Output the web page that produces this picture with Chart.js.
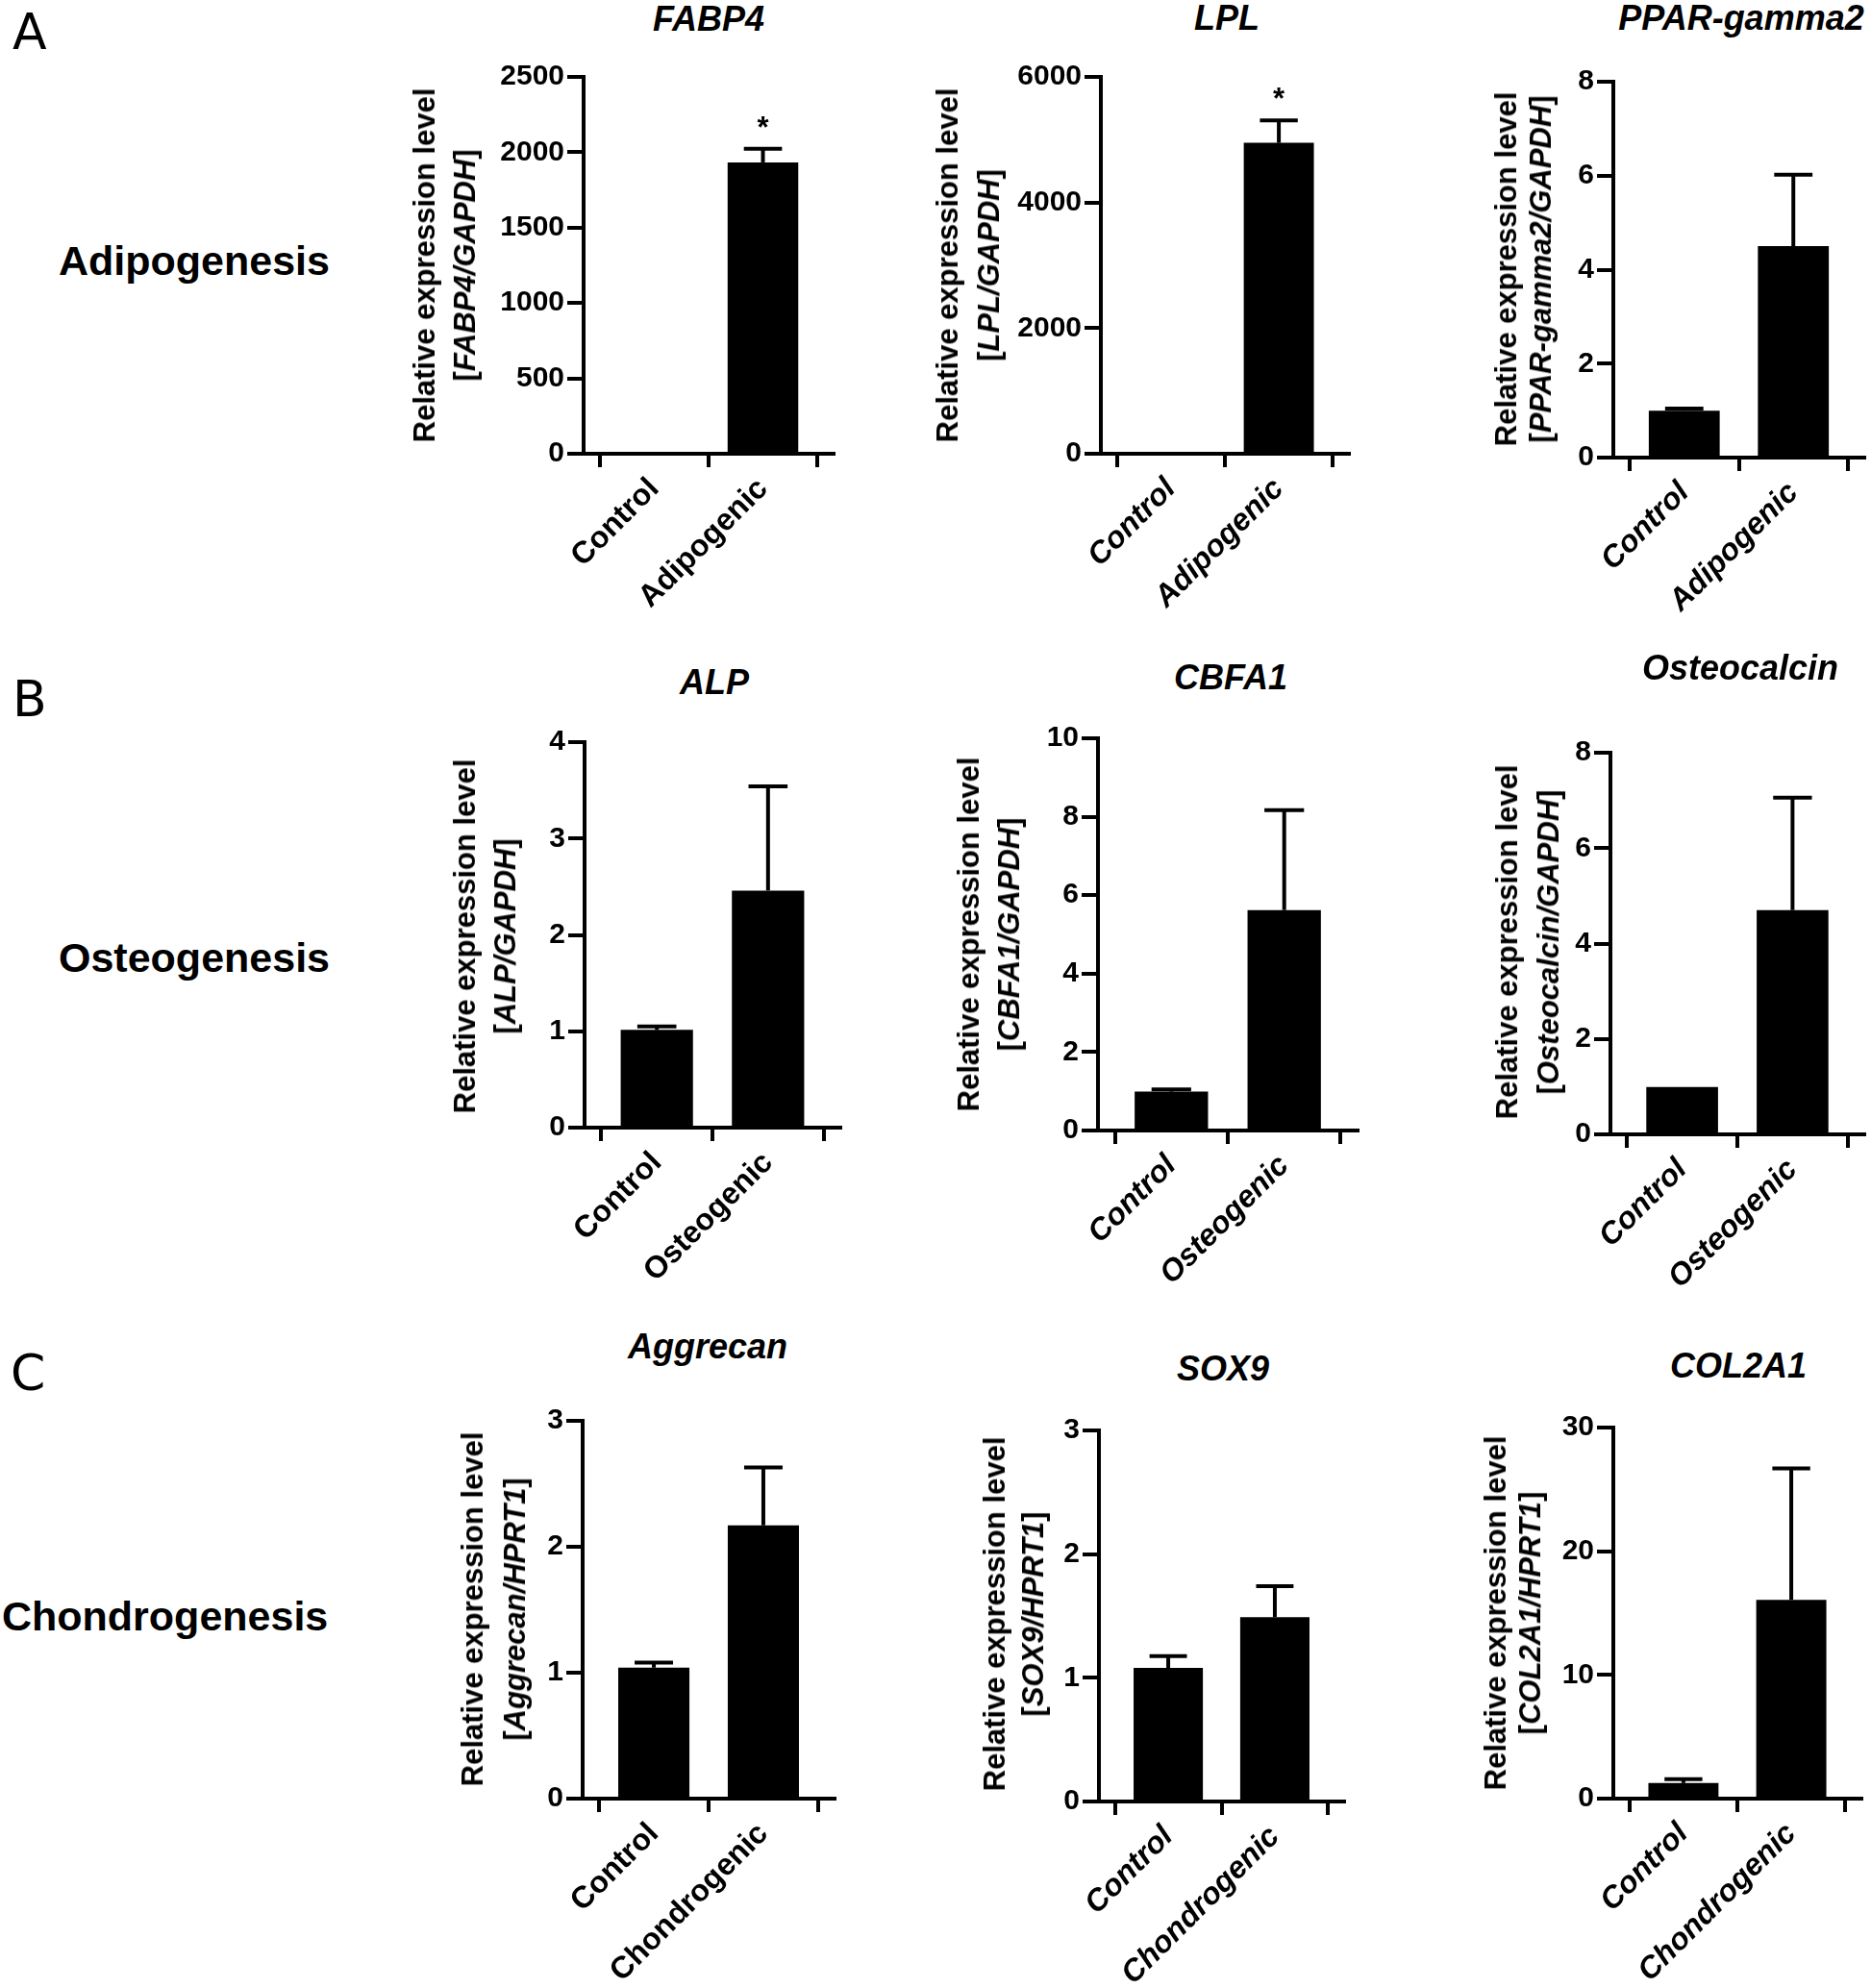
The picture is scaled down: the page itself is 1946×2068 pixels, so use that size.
<!DOCTYPE html>
<html>
<head>
<meta charset="utf-8">
<script src="https://cdn.jsdelivr.net/npm/chart.js@4.4.1/dist/chart.umd.min.js"></script>
<style>
html,body{margin:0;padding:0;background:#fff;overflow:hidden}
#page{position:relative;width:1946px;height:2068px;background:#fff;color:#000;font-family:"Liberation Sans",Arial,sans-serif;overflow:hidden}
canvas{position:absolute}
.t{position:absolute;white-space:nowrap;line-height:1;font-weight:bold}
.title{font-style:italic;transform:translateX(-50%)}
.yt{position:absolute;white-space:nowrap;font-weight:bold;text-align:center;transform:translate(-50%,-50%) rotate(-90deg)}
.letter{position:absolute;line-height:1;font-family:"DejaVu Sans",sans-serif;font-weight:normal}
</style>
</head>
<body>
<div id="page"></div>
<script>
// ---------------- DATA ----------------
const geneNames = ['FABP4', 'LPL', 'PPAR-gamma2', 'ALP', 'CBFA1', 'Osteocalcin', 'Aggrecan', 'SOX9', 'COL2A1'];
const referenceGenes = ['GAPDH', 'GAPDH', 'GAPDH', 'GAPDH', 'GAPDH', 'GAPDH', 'HPRT1', 'HPRT1', 'HPRT1'];
const rowLabels = ['Adipogenesis', 'Osteogenesis', 'Chondrogenesis'];
const panelLetters = ['A', 'B', 'C'];

const adipoCategories = ['Control', 'Adipogenic'];
const osteoCategories = ['Control', 'Osteogenic'];
const chondroCategories = ['Control', 'Chondrogenic'];

const fabp4Mean = [1, 1933];      const fabp4Sem = [0, 91];
const lplMean = [1, 4950];        const lplSem = [0, 359];
const pparMean = [1.00, 4.50];    const pparSem = [0.045, 1.52];
const alpMean = [1.015, 2.46];    const alpSem = [0.035, 1.08];
const cbfa1Mean = [0.99, 5.62];   const cbfa1Sem = [0.06, 2.55];
const ocMean = [0.99, 4.70];      const ocSem = [0, 2.36];
const aggMean = [1.04, 2.17];     const aggSem = [0.04, 0.46];
const sox9Mean = [1.08, 1.49];    const sox9Sem = [0.095, 0.25];
const col2Mean = [1.26, 16.06];   const col2Sem = [0.32, 10.64];

const fabp4Sig = [false, true];
const lplSig = [false, true];
const noSig = [false, false];

const yMaxes = [2500, 6000, 8, 4, 10, 8, 3, 3, 30];
const ySteps = [500, 2000, 2, 1, 2, 2, 1, 1, 10];

// ---------------- LAYOUT (positions only) ----------------
const frames = [
  {L:607,  R:867,  T:80,   B:472,  tx:737,  tb:32,   y1:442,  y2:484,  yc:276,  ital:false},
  {L:1145, R:1403, T:80,   B:472,  tx:1276, tb:31,   y1:985,  y2:1028, yc:276,  ital:true},
  {L:1678, R:1939, T:85,   B:476,  tx:1811, tb:31,   y1:1567, y2:1603, yc:280,  ital:true},
  {L:608,  R:874,  T:772,  B:1173, tx:743,  tb:722,  y1:484,  y2:526,  yc:974,  ital:false},
  {L:1142, R:1412, T:768,  B:1176, tx:1280, tb:717,  y1:1008, y2:1050, yc:972,  ital:true},
  {L:1675, R:1939, T:783,  B:1180, tx:1810, tb:707,  y1:1567, y2:1610, yc:980,  ital:true},
  {L:606,  R:868,  T:1478, B:1871, tx:736,  tb:1413, y1:492,  y2:536,  yc:1674, ital:false},
  {L:1143, R:1398, T:1488, B:1874, tx:1272, tb:1436, y1:1035, y2:1075, yc:1679, ital:true},
  {L:1678, R:1936, T:1485, B:1871, tx:1808, tb:1433, y1:1556, y2:1592, yc:1678, ital:true}
];
const rowLabelPos = [{x:61, b:286}, {x:61, b:1011}, {x:2, b:1696}];
const letterPos = [{x:13, b:51}, {x:13, b:745}, {x:11, b:1446}];

const series = [
  {cats: adipoCategories, mean: fabp4Mean, sem: fabp4Sem, sig: fabp4Sig},
  {cats: adipoCategories, mean: lplMean, sem: lplSem, sig: lplSig},
  {cats: adipoCategories, mean: pparMean, sem: pparSem, sig: noSig},
  {cats: osteoCategories, mean: alpMean, sem: alpSem, sig: noSig},
  {cats: osteoCategories, mean: cbfa1Mean, sem: cbfa1Sem, sig: noSig},
  {cats: osteoCategories, mean: ocMean, sem: ocSem, sig: noSig},
  {cats: chondroCategories, mean: aggMean, sem: aggSem, sig: noSig},
  {cats: chondroCategories, mean: sox9Mean, sem: sox9Sem, sig: noSig},
  {cats: chondroCategories, mean: col2Mean, sem: col2Sem, sig: noSig}
];

const FONT = '"Liberation Sans", Arial, sans-serif';
const page = document.getElementById('page');

function addDiv(cls, html, style) {
  const d = document.createElement('div');
  d.className = cls;
  d.innerHTML = html;
  Object.assign(d.style, style);
  page.appendChild(d);
  return d;
}

// Panel letters and row labels
panelLetters.forEach((l, i) => {
  const f = 52;
  addDiv('letter', l, {left: letterPos[i].x + 'px', top: (letterPos[i].b - 0.846 * f) + 'px', fontSize: f + 'px'});
});
rowLabels.forEach((l, i) => {
  const f = 43;
  addDiv('t', l, {left: rowLabelPos[i].x + 'px', top: (rowLabelPos[i].b - 0.8465 * f) + 'px', fontSize: f + 'px'});
});

// Error bar + significance plugin
const semPlugin = {
  id: 'semBars',
  afterDatasetsDraw(chart) {
    const ctx = chart.ctx;
    const yS = chart.scales.y;
    const ds = chart.data.datasets[0];
    const meta = chart.getDatasetMeta(0);
    ctx.save();
    ctx.strokeStyle = '#000';
    ctx.fillStyle = '#000';
    ctx.lineWidth = 4;
    ctx.lineCap = 'butt';
    meta.data.forEach((bar, i) => {
      const v = ds.data[i].y;
      const e = ds.sem[i];
      const yTop = yS.getPixelForValue(v + e);
      const half = bar.width * 0.27;
      if (e > 0) {
        ctx.beginPath();
        ctx.moveTo(bar.x, bar.y);
        ctx.lineTo(bar.x, yTop);
        ctx.stroke();
        ctx.beginPath();
        ctx.moveTo(bar.x - half, yTop);
        ctx.lineTo(bar.x + half, yTop);
        ctx.stroke();
      }
      if (ds.sig[i]) {
        ctx.font = 'bold 31px ' + FONT;
        ctx.textAlign = 'center';
        ctx.textBaseline = 'alphabetic';
        ctx.fillText('*', bar.x, yTop - 12);
      }
    });
    ctx.restore();
  }
};

const AXW = 130;   // fixed y-axis box width
const PADT = 25;   // top padding
const PADR = 6;    // right padding
const XH = 200;    // fixed x-axis box height

frames.forEach((fr, i) => {
  const s = series[i];
  const cw = (fr.R - fr.L) + AXW + PADR;
  const ch = (fr.B - fr.T) + PADT + XH;
  const cv = document.createElement('canvas');
  cv.width = cw; cv.height = ch;
  cv.style.left = (fr.L - AXW) + 'px';
  cv.style.top = (fr.T - PADT) + 'px';
  cv.style.width = cw + 'px';
  cv.style.height = ch + 'px';
  page.appendChild(cv);

  new Chart(cv, {
    type: 'bar',
    data: {
      datasets: [{
        data: s.mean.map((m, k) => ({x: k, y: m})),
        sem: s.sem,
        sig: s.sig,
        backgroundColor: '#000',
        borderWidth: 0,
        barPercentage: 0.65,
        categoryPercentage: 1.0
      }]
    },
    options: {
      responsive: false,
      animation: false,
      devicePixelRatio: 1,
      layout: {padding: {left: 0, top: PADT, right: PADR, bottom: 0}},
      plugins: {legend: {display: false}, tooltip: {enabled: false}, title: {display: false}},
      scales: {
        x: {
          type: 'linear',
          min: -0.65,
          max: 1.65,
          offset: false,
          afterBuildTicks: (sc) => { sc.ticks = s.cats.map((c, k) => ({value: k})); },
          afterFit: (sc) => { sc.height = XH; },
          grid: {display: true, drawOnChartArea: false, drawTicks: true, tickLength: 14, tickWidth: 4, tickColor: '#000', color: '#000', lineWidth: 4},
          border: {display: true, width: 4, color: '#000'},
          ticks: {
            autoSkip: false,
            minRotation: 45,
            maxRotation: 45,
            padding: 4,
            color: '#000',
            font: {family: FONT, size: 32, weight: 'bold', style: fr.ital ? 'italic' : 'normal'},
            callback: (v, k) => s.cats[k]
          }
        },
        y: {
          type: 'linear',
          min: 0,
          max: yMaxes[i],
          afterFit: (sc) => { sc.width = AXW; },
          grid: {display: true, drawOnChartArea: false, drawTicks: true, tickLength: 17, tickWidth: 4, tickColor: '#000', color: '#000', lineWidth: 4},
          border: {display: true, width: 4, color: '#000'},
          ticks: {
            stepSize: ySteps[i],
            padding: 3,
            color: '#000',
            font: {family: FONT, size: 30, weight: 'bold'},
            callback: (v) => String(v)
          }
        }
      }
    },
    plugins: [semPlugin]
  });

  // Chart title
  const tf = 36;
  addDiv('t title', geneNames[i], {left: fr.tx + 'px', top: (fr.tb - 0.8465 * tf) + 'px', fontSize: tf + 'px'});
  // Y-axis title (two lines, second with italic gene names)
  const lh = fr.y2 - fr.y1;
  addDiv('yt', 'Relative expression level<br>[<i>' + geneNames[i] + '/' + referenceGenes[i] + '</i>]',
    {left: ((fr.y1 + fr.y2) / 2) + 'px', top: fr.yc + 'px', fontSize: '31px', lineHeight: lh + 'px'});
});
</script>
</body>
</html>
